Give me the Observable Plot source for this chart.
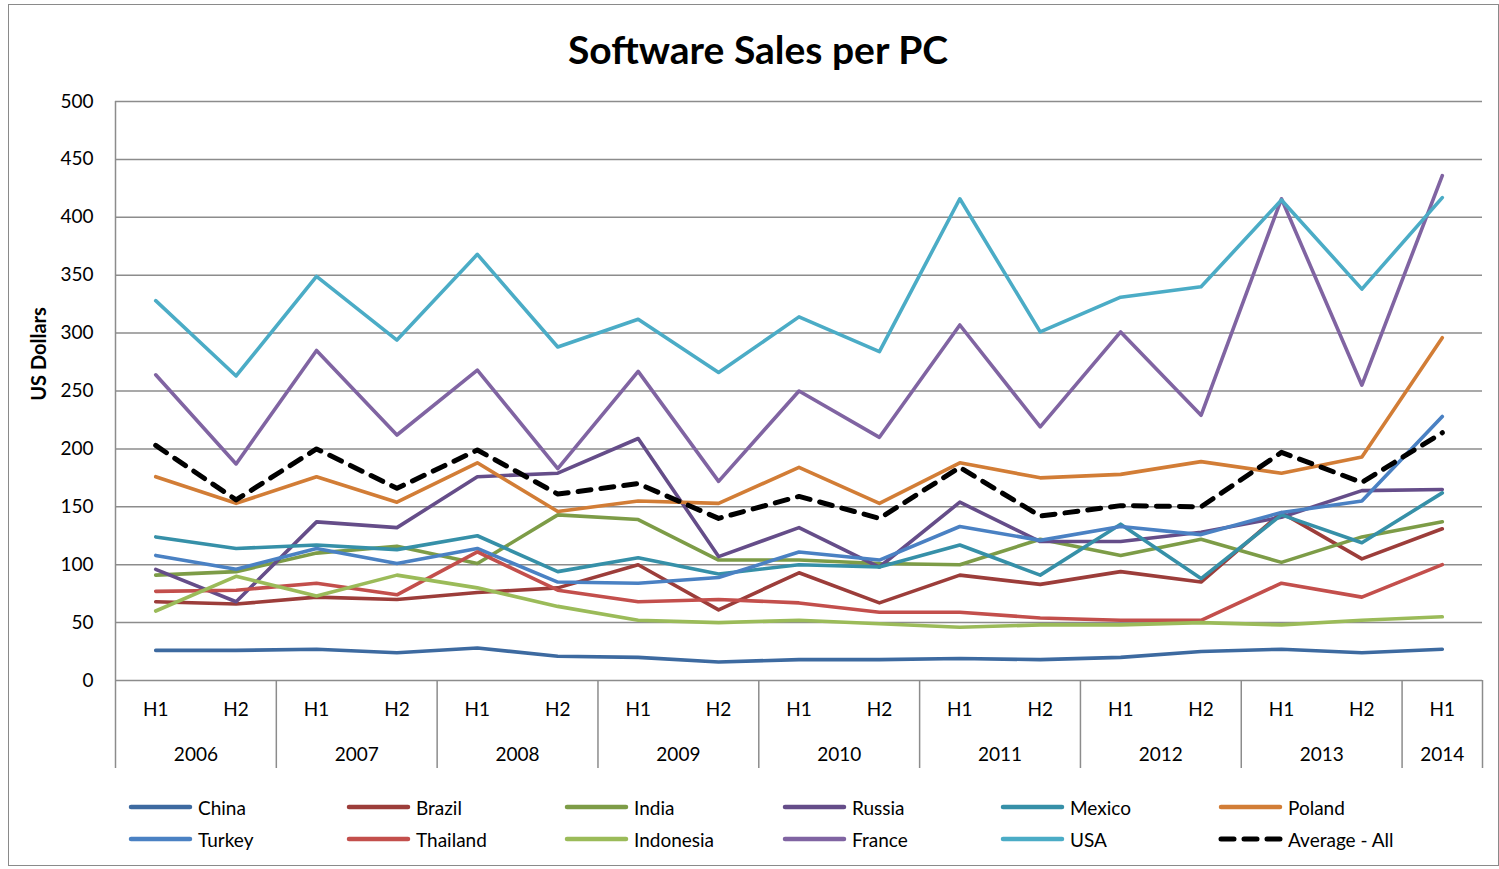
<!DOCTYPE html>
<html><head><meta charset="utf-8">
<script src="https://cdn.jsdelivr.net/npm/d3@7"></script>
<script src="https://cdn.jsdelivr.net/npm/@observablehq/plot@0.6"></script>
<style>
body{margin:0;background:#fff;font-family:Lato,"Open Sans",sans-serif;color:#000}
#chart{position:relative;width:1499px;height:869px;overflow:hidden}
#frame{position:absolute;left:8px;top:4px;width:1491px;height:862px;border:1px solid #8a8a8a;box-sizing:border-box}
#title{position:absolute;left:0;width:1516px;top:26px;text-align:center;font-weight:bold;font-size:39px;line-height:46px}
#ylabel{position:absolute;left:38px;top:354px;transform:translate(-50%,-50%) rotate(-90deg);font-weight:bold;font-size:20px;white-space:nowrap}
#plot{position:absolute;left:0;top:90px}
.leg{position:absolute;height:24px;display:flex;align-items:center;font-size:19px;white-space:nowrap}
.leg svg{margin-right:3px}
</style>
</head><body>
<div id="chart">
  <div id="frame"></div>
  <div id="title">Software Sales per PC</div>
  <div id="ylabel">US Dollars</div>
  <div id="plot"></div>
</div>
<script>
// ---- data ----
const periodYear = [2006,2006,2007,2007,2008,2008,2009,2009,2010,2010,2011,2011,2012,2012,2013,2013,2014];
const periodHalf = ["H1","H2","H1","H2","H1","H2","H1","H2","H1","H2","H1","H2","H1","H2","H1","H2","H1"];
const yTicks = [0,50,100,150,200,250,300,350,400,450,500];

const seriesNames = ["China","Brazil","India","Russia","Mexico","Poland","Turkey","Thailand","Indonesia","France","USA","Average - All"];
const seriesColors = ["#3d6aa0","#9c3d3a","#7d9c47","#654d89","#3690a8","#d27d36","#4a81c3","#c34f4c","#9bbb59","#8064a2","#4bacc6","#000000"];

const china     = [26,26,27,24,28,21,20,16,18,18,19,18,20,25,27,24,27];
const brazil    = [68,66,72,70,76,80,100,61,93,67,91,83,94,85,145,105,131];
const india     = [91,94,110,116,101,143,139,104,104,101,100,122,108,122,102,124,137];
const russia    = [96,68,137,132,176,179,209,107,132,98,154,120,120,128,141,164,165];
const mexico    = [124,114,117,113,125,94,106,92,100,98,117,91,135,88,143,119,162];
const poland    = [176,153,176,154,188,146,155,153,184,153,188,175,178,189,179,193,296];
const turkey    = [108,96,114,101,114,85,84,89,111,104,133,121,133,126,145,155,228];
const thailand  = [77,78,84,74,111,78,68,70,67,59,59,54,52,52,84,72,100];
const indonesia = [60,90,73,91,80,64,52,50,52,49,46,48,48,50,48,52,55];
const france    = [264,187,285,212,268,183,267,172,250,210,307,219,301,229,416,255,436];
const usa       = [328,263,349,294,368,288,312,266,314,284,416,301,331,340,415,338,417];
const average   = [203,156,200,166,199,161,170,140,159,140,184,142,151,150,197,171,214];
const seriesValues = [china,brazil,india,russia,mexico,poland,turkey,thailand,indonesia,france,usa,average];

// ---- derived tables ----
const idx = periodHalf.map((_, i) => i);
const years = Array.from(new Set(periodYear));
const yearCenters = years.map(y => ({year: y, x: d3.mean(idx.filter(i => periodYear[i] === y))}));
const boundaries = [-0.5, ...idx.filter(i => i > 0 && periodYear[i] !== periodYear[i-1]).map(i => i - 0.5), idx.length - 0.5];

const gridColor = "#8c8c8c";
const isAvg = n => n === "Average - All";

const lineMarks = seriesNames.map((name, s) => Plot.line(
  seriesValues[s].map((v, i) => ({i, value: v})),
  {x: "i", y: "value", stroke: seriesColors[s],
   strokeWidth: isAvg(name) ? 5 : 3.6,
   strokeDasharray: isAvg(name) ? "13,10" : null,
   strokeLinecap: "round", strokeLinejoin: "round"}
));

const hasAxisMark = typeof Plot.axisX === "function";
const xScale = {domain: [-0.5, idx.length - 0.5]};
const marks = [
  Plot.ruleY(yTicks, {stroke: gridColor, strokeWidth: 1.5}),
  Plot.ruleX([-0.5], {stroke: gridColor, strokeWidth: 1.5}),
  ...lineMarks,
  Plot.text(idx, {x: i => i, text: i => periodHalf[i], frameAnchor: "bottom", dy: 35, fontSize: 19, fill: "#000"}),
  Plot.text(yearCenters, {x: "x", text: d => String(d.year), frameAnchor: "bottom", dy: 80, fontSize: 19, fill: "#000"})
];
if (hasAxisMark) {
  marks.unshift(Plot.axisX(boundaries, {tickSize: 88, tickFormat: () => "", stroke: gridColor, strokeWidth: 1.5, label: null}));
} else {
  Object.assign(xScale, {ticks: boundaries, tickSize: 88, tickFormat: () => "", label: null});
}

const chart = Plot.plot({
  width: 1499,
  height: 690,
  marginTop: 11,
  marginBottom: 100,
  marginLeft: 115,
  marginRight: 17,
  style: {fontSize: "19px", fontFamily: "Lato, 'Open Sans', sans-serif", color: "#000", background: "transparent", overflow: "visible"},
  x: xScale,
  y: {domain: [0, 500], ticks: yTicks, tickSize: 0, tickPadding: 22, label: null},
  marks
});
document.getElementById("plot").appendChild(chart);

// ---- legend ----
const chartDiv = document.getElementById("chart");
seriesNames.forEach((name, s) => {
  const col = s % 6, row = Math.floor(s / 6);
  const el = document.createElement("div");
  el.className = "leg";
  el.style.left = (127 + col * 218) + "px";
  el.style.top = (795 + row * 32) + "px";
  const avg = isAvg(name);
  el.innerHTML = `<svg width="68" height="10"><line x1="4" y1="5" x2="63" y2="5" stroke="${seriesColors[s]}" stroke-width="${avg ? 5 : 4.5}" stroke-linecap="round" ${avg ? 'stroke-dasharray="13,10"' : ''}/></svg><span>${name}</span>`;
  chartDiv.appendChild(el);
});
</script>
</body></html>
